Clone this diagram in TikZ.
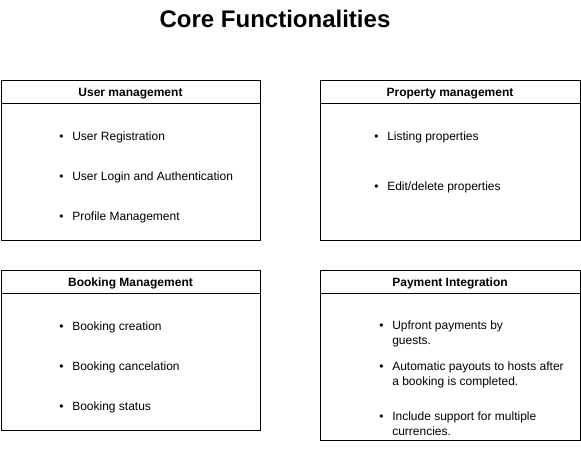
\documentclass[tikz,border=0pt]{standalone}
\usepackage{fontspec}
\setmainfont{Liberation Sans}
\usetikzlibrary{positioning}
\newcommand{\itm}{\llap{•\hspace{6.5pt}}}
\tikzset{
  panelhead/.style={draw, line width=0.75pt, outer sep=0pt, inner sep=0pt, anchor=north west,
    minimum width=#1, minimum height=17.25pt, text height=7.6pt, text depth=0pt, font=\bfseries\fontsize{9}{11}\selectfont},
  panelbody/.style 2 args={draw, line width=0.75pt, outer sep=0pt, minimum width=#1, minimum height=#2},
  bullet/.style={anchor=base west, inner sep=0pt, align=left, font=\fontsize{9}{10.8}\selectfont}
}
\begin{document}
\begin{tikzpicture}[x=0.75pt, y=-0.75pt]
    \useasboundingbox (0,0) rectangle (581,450);
    \node[font=\bfseries\fontsize{18}{22}\selectfont] (title) at (275,19) {Core Functionalities};
    % User management
    \node[panelhead=194.25pt] (userh) at (1,80) {User management};
    \node[panelbody={194.25pt}{102.75pt}, below=0pt of userh] (user) {};
    \node[bullet] (reg) at (72,140) {\itm User Registration};
    \node[bullet] (login) at (72,180) {\itm User Login and Authentication};
    \node[bullet] (profile) at (72,220) {\itm Profile Management};
    % Property management
    \node[panelhead=195pt] (proph) at (320,80) {Property management};
    \node[panelbody={195pt}{102.75pt}, below=0pt of proph] (prop) {};
    \node[bullet] (listing) at (387,140) {\itm Listing properties};
    \node[bullet] (edit) at (387,190) {\itm Edit/delete properties};
    % Booking management
    \node[panelhead=194.25pt] (bookh) at (1,270) {Booking Management};
    \node[panelbody={194.25pt}{102.75pt}, below=0pt of bookh] (book) {};
    \node[bullet] (create) at (72,330) {\itm Booking creation};
    \node[bullet] (cancel) at (72,370) {\itm Booking cancelation};
    \node[bullet] (status) at (72,410) {\itm Booking status};
    % Payment integration
    \node[panelhead=195pt] (payh) at (320,270) {Payment Integration};
    \node[panelbody={195pt}{110.25pt}, below=0pt of payh] (pay) {};
    \node[bullet] (upfront) at (392,344) {\itm Upfront payments by\\guests.};
    \node[bullet] (payout) at (392,385) {\itm Automatic payouts to hosts after\\a booking is completed.};
    \node[bullet] (currency) at (392,435) {\itm Include support for multiple\\currencies.};
\end{tikzpicture}
\end{document}
